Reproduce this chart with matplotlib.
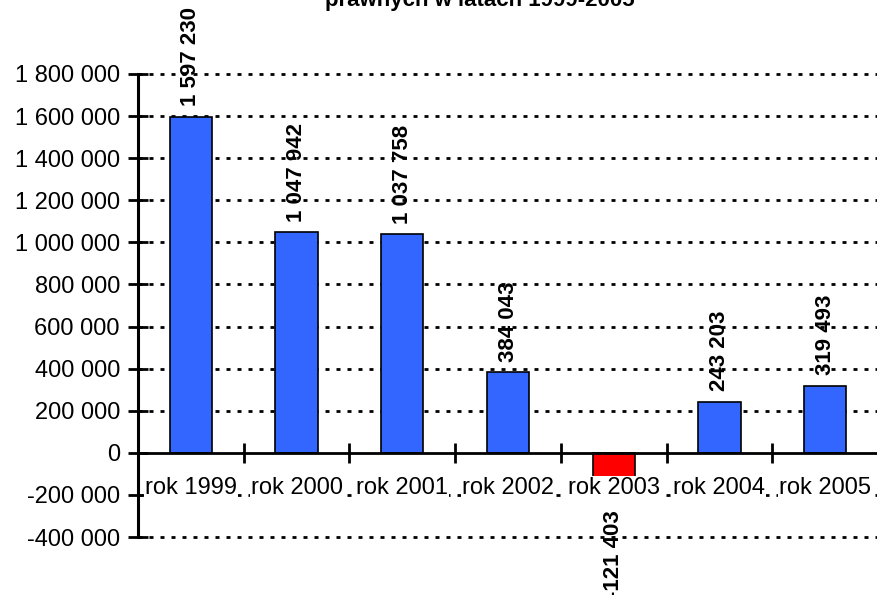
import matplotlib.pyplot as plt
from matplotlib.ticker import FuncFormatter

plt.rcParams['font.family'] = ['Liberation Sans', 'DejaVu Sans']

# data
years = ['rok 1999', 'rok 2000', 'rok 2001', 'rok 2002', 'rok 2003', 'rok 2004', 'rok 2005']
values = [1597230, 1047942, 1037758, 384043, -121403, 243203, 319493]
title = 'prawnych w latach 1999-2005'


def fmt(v):
    s = f"{abs(int(v)):,}".replace(',', ' ')
    return ('-' if v < 0 else '') + s


fig = plt.figure(figsize=(8.77, 5.95), dpi=100)
ax = fig.add_axes([138 / 877, 58 / 595, 740 / 877, 463 / 595])

x = list(range(len(years)))
colors = ['#3366ff' if v >= 0 else '#ff0000' for v in values]
ax.bar(x, values, width=0.4, color=colors, edgecolor='black', linewidth=1.2, zorder=3)

ax.set_xlim(-0.5, len(years) - 0.5)
ax.set_ylim(-400000, 1800000)
ax.set_yticks(range(-400000, 1800001, 200000))
ax.yaxis.set_major_formatter(FuncFormatter(lambda v, p: fmt(v)))
ax.tick_params(axis='y', direction='inout', length=14, width=2, labelsize=17, pad=6)

# dotted grid
for g in range(-400000, 1800001, 200000):
    if g == 0:
        continue
    ax.axhline(g, color='black', lw=2, linestyle=(0, (1.44, 2.52)), zorder=1, clip_on=False)

# spines
for s in ['top', 'right']:
    ax.spines[s].set_visible(False)
ax.spines['left'].set_linewidth(2.2)
ax.spines['bottom'].set_position(('data', 0))
ax.spines['bottom'].set_linewidth(2)
ax.spines['bottom'].set_zorder(4)
ax.set_xticks([i + 0.5 for i in x])
ax.set_xticklabels([])
ax.tick_params(axis='x', direction='inout', length=14, width=2)

# category labels
for i, name in enumerate(years):
    ax.text(i, -168000, name, ha='center', va='center', fontsize=17, zorder=5,
            bbox=dict(facecolor='white', edgecolor='none', pad=0.5))

# value labels
for i, v in enumerate(values):
    if v >= 0:
        ax.annotate(fmt(v), (i, v), xytext=(0, 7.5), textcoords='offset points',
                    rotation=90, ha='center', va='bottom', fontsize=16, fontweight='bold',
                    zorder=6, annotation_clip=False)
    else:
        ax.annotate(fmt(v), (i, v), xytext=(0, -23), textcoords='offset points',
                    rotation=90, ha='center', va='top', fontsize=16, fontweight='bold',
                    zorder=6, annotation_clip=False)

fig.text(480 / 877, 1 - 6 / 595, title, ha='center', va='baseline', fontsize=16, fontweight='bold')

fig.savefig('out.png', dpi=100)
